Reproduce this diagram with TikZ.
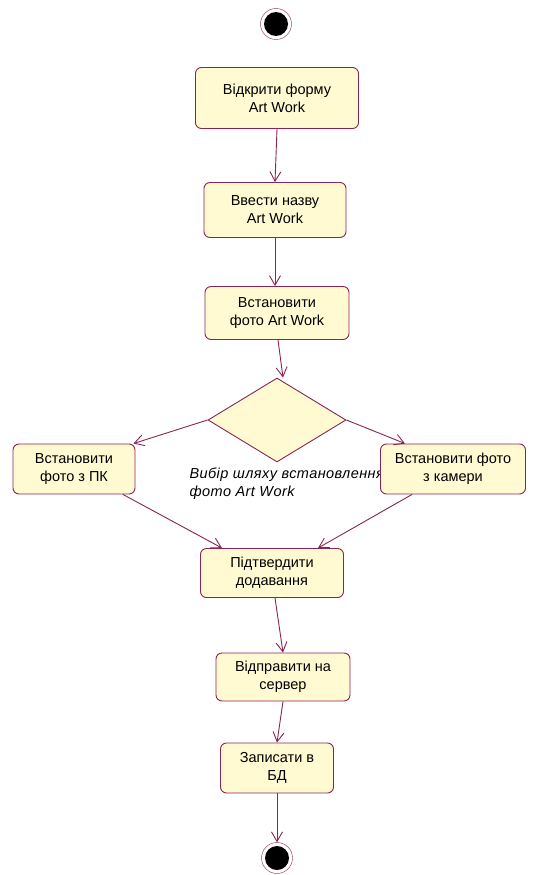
\documentclass[tikz,border=0pt]{standalone}
\usepackage{fontspec}
\setmainfont{Liberation Sans}
\usetikzlibrary{shapes.geometric,arrows.meta}
\definecolor{actfill}{RGB}{255,250,210}
\definecolor{actline}{RGB}{140,35,85}

\begin{document}
\begin{tikzpicture}[x=1pt, y=-1pt,
    every node/.style={font=\fontsize{14.5}{18}\selectfont},
    activity/.style={draw=actline, line width=0.9pt, fill=actfill, rounded corners=6pt, align=center, inner sep=2pt},
    decision/.style={diamond, draw=actline, line width=0.9pt, fill=actfill, inner sep=0pt},
    bullseye/.style={circle, draw=actline, minimum size=31pt, inner sep=0pt,
      path picture={\fill (path picture bounding box.center) circle (12pt);}},
    flow/.style={draw=actline, line width=0.9pt, -{Straight Barb[angle=60:11pt]}}]
  \useasboundingbox (0,0) rectangle (533,875);
  \node[bullseye] (start) at (276,24) {};
  \node[activity, minimum width=163pt, minimum height=61pt] (open) at (277,98) {Відкрити форму\\Art Work};
  \node[activity, minimum width=142pt, minimum height=55pt] (name) at (275,210) {Ввести назву\\Art Work};
  \node[activity, minimum width=144pt, minimum height=53pt] (photo) at (277,313) {Встановити\\фото Art Work};
  \node[decision, minimum width=138pt, minimum height=84pt] (choice) at (277,420) {};
  \node[anchor=west, align=left, font=\fontsize{14.5}{18}\selectfont\itshape\addfontfeature{LetterSpace=3}] (choice label) at (186,484) {Вибір шляху встановлення\\фото Art Work};
  \node[activity, minimum width=122pt, minimum height=50pt] (pc) at (74,469) {Встановити\\фото з ПК};
  \node[activity, minimum width=145pt, minimum height=50pt] (cam) at (453,469) {Встановити фото\\з камери};
  \node[activity, minimum width=143pt, minimum height=49pt] (confirm) at (272,573) {Підтвердити\\додавання};
  \node[activity, minimum width=134pt, minimum height=48pt] (send) at (283,677) {Відправити на\\сервер};
  \node[activity, minimum width=113pt, minimum height=50pt] (save) at (277,768) {Записати в\\БД};
  \node[bullseye] (end) at (277,858) {};

  \draw[flow] (open.south) -- (name.north);
  \draw[flow] (name.south) -- (name.south |- photo.north);
  \draw[flow] ([xshift=1pt]photo.south) -- ([xshift=6pt]choice.north);
  \draw[flow] (choice.west) -- ([xshift=-2pt]pc.north east);
  \draw[flow] (choice.east) -- ([xshift=-48pt]cam.north);
  \draw[flow] ([xshift=49pt]pc.south) -- ([xshift=-50pt]confirm.north);
  \draw[flow] ([xshift=-41pt]cam.south) -- ([xshift=46pt]confirm.north);
  \draw[flow] ([xshift=3pt]confirm.south) -- (send.north);
  \draw[flow] (send.south) -- (save.north);
  \draw[flow] (save.south) -- (end.north);
\end{tikzpicture}
\end{document}
